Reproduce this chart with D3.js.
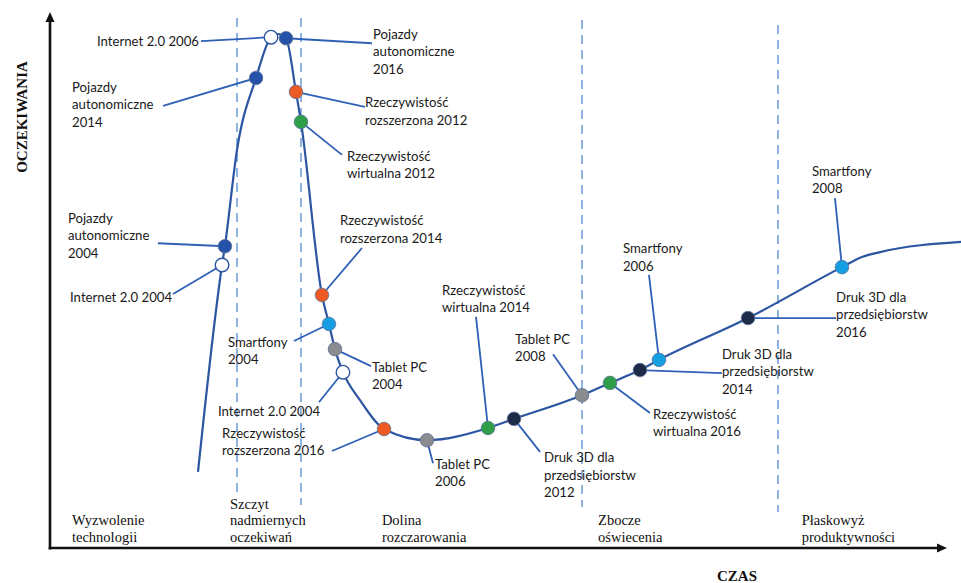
<!DOCTYPE html>
<html>
<head>
<meta charset="utf-8">
<script src="https://cdn.jsdelivr.net/npm/d3@7"></script>
<style>
  body { margin: 0; background: #fff; }
  svg { display: block; }
</style>
</head>
<body>
<svg id="chart" width="961" height="583"></svg>
<script>
// Hype cycle: time (0–100) vs expectations (0–100)
const hypeTime   = [16.5, 19.18, 19.5, 20.85, 22.97, 24.64, 25.42, 26.31, 27.42, 27.98, 30.32, 31.10, 31.77, 32.66, 34.56, 37.24, 42.03, 48.83, 51.73, 59.31, 62.43, 65.77, 67.89, 77.82, 88.29, 90.52, 92.53, 101.56];
const hypeExpect = [14.2, 52.8, 56.3, 74.3, 87.7, 95.3, 95.9, 95.1, 85.1, 79.5, 47.2, 41.8, 37.1, 32.8, 27.6, 22.2, 20.1, 22.4, 24.1, 28.5, 30.8, 33.2, 35.1, 42.9, 52.4, 54.3, 55.2, 57.1];

// Technologies placed on the cycle
const techName   = ["Internet 2.0", "Pojazdy autonomiczne", "Pojazdy autonomiczne", "Rzeczywistość rozszerzona", "Rzeczywistość wirtualna",
                    "Pojazdy autonomiczne", "Internet 2.0", "Rzeczywistość rozszerzona", "Smartfony", "Tablet PC",
                    "Internet 2.0", "Rzeczywistość rozszerzona", "Tablet PC", "Rzeczywistość wirtualna", "Druk 3D dla przedsiębiorstw",
                    "Tablet PC", "Rzeczywistość wirtualna", "Druk 3D dla przedsiębiorstw", "Smartfony", "Druk 3D dla przedsiębiorstw", "Smartfony"];
const techYear   = [2006, 2016, 2014, 2012, 2012, 2004, 2004, 2014, 2004, 2004, 2004, 2016, 2006, 2014, 2012, 2008, 2016, 2014, 2006, 2016, 2008];
const techTime   = [24.64, 26.31, 22.97, 27.42, 27.98, 19.5, 19.18, 30.32, 31.10, 31.77, 32.66, 37.24, 42.03, 48.83, 51.73, 59.31, 62.43, 65.77, 67.89, 77.82, 88.29];
const techExpect = [95.3, 95.1, 87.7, 85.1, 79.5, 56.3, 52.8, 47.2, 41.8, 37.1, 32.8, 22.2, 20.1, 22.4, 24.1, 28.5, 30.8, 33.2, 35.1, 42.9, 52.4];

// Label text, line by line
const techLines = [
  ["Internet 2.0 2006"],
  ["Pojazdy", "autonomiczne", "2016"],
  ["Pojazdy", "autonomiczne", "2014"],
  ["Rzeczywistość", "rozszerzona 2012"],
  ["Rzeczywistość", "wirtualna 2012"],
  ["Pojazdy", "autonomiczne", "2004"],
  ["Internet 2.0 2004"],
  ["Rzeczywistość", "rozszerzona 2014"],
  ["Smartfony", "2004"],
  ["Tablet PC", "2004"],
  ["Internet 2.0 2004"],
  ["Rzeczywistość", "rozszerzona 2016"],
  ["Tablet PC", "2006"],
  ["Rzeczywistość", "wirtualna 2014"],
  ["Druk 3D dla", "przedsiębiorstw", "2012"],
  ["Tablet PC", "2008"],
  ["Rzeczywistość", "wirtualna 2016"],
  ["Druk 3D dla", "przedsiębiorstw", "2014"],
  ["Smartfony", "2006"],
  ["Druk 3D dla", "przedsiębiorstw", "2016"],
  ["Smartfony", "2008"]
];

// Phases of the cycle
const phaseLines = [["Wyzwolenie", "technologii"], ["Szczyt", "nadmiernych", "oczekiwań"], ["Dolina", "rozczarowania"], ["Zbocze", "oświecenia"], ["Płaskowyż", "produktywności"]];
const phaseLabelTime = [2.45, 20.07, 37.0, 61.1, 83.8];
const phaseBoundaries = [20.85, 27.98, 59.31, 81.16];

// Callout placement (pixel offsets from each point): label anchor and leader end
const calloutLayout = [
  { dx: -72, dy: 4, lx: -70, ly: 4, anchor: "end" },
  { dx: 87, dy: -4, lx: 86, ly: 5 },
  { dx: -184, dy: 9, lx: -93, ly: 28 },
  { dx: 69, dy: 11, lx: 69, ly: 15 },
  { dx: 46, dy: 34, lx: 41, ly: 33 },
  { dx: -157, dy: -28, lx: -67, ly: -3 },
  { dx: -152, dy: 32, lx: -49, ly: 29 },
  { dx: 18, dy: -74.5, lx: 40, ly: -47 },
  { dx: -101, dy: 18, lx: -35, ly: 17 },
  { dx: 37, dy: 18, lx: 36, ly: 17 },
  { dx: -125, dy: 39, lx: -24, ly: 30 },
  { dx: -162, dy: 4, lx: -52, ly: 22 },
  { dx: 8, dy: 24, lx: 6, ly: 23 },
  { dx: -46, dy: -138, lx: -12, ly: -111 },
  { dx: 30, dy: 39, lx: 26, ly: 33 },
  { dx: -67, dy: -56, lx: -29, ly: -41 },
  { dx: 43, dy: 31, lx: 40, ly: 30 },
  { dx: 82, dy: -16, lx: 82, ly: 3 },
  { dx: -36, dy: -111, lx: -10, ly: -85 },
  { dx: 88, dy: -21, lx: 88, ly: 0 },
  { dx: -30, dy: -96, lx: -7, ly: -69 }
];

const techColor = {
  "Internet 2.0": "#ffffff",
  "Pojazdy autonomiczne": "#2452a8",
  "Rzeczywistość rozszerzona": "#ee5a24",
  "Rzeczywistość wirtualna": "#2f9e48",
  "Smartfony": "#169ee2",
  "Tablet PC": "#8a8c8f",
  "Druk 3D dla przedsiębiorstw": "#1d2b48"
};

const svg = d3.select("#chart");
const x = d3.scaleLinear().domain([0, 100]).range([50, 947]);
const y = d3.scaleLinear().domain([0, 100]).range([548, 12]);

const lineBlue = "#2c55a2";
const leaderBlue = "#2f60b6";
const labelFont = "Lato, 'Open Sans', sans-serif";
const serifFont = "'Liberation Serif', 'Times New Roman', serif";

// Phase boundaries
svg.append("g").selectAll("line").data(phaseBoundaries).join("line")
  .attr("x1", d => x(d)).attr("x2", d => x(d))
  .attr("y1", (d, i) => [18, 18, 20, 25][i])
  .attr("y2", (d, i) => [492, 505, 507, 512][i])
  .attr("stroke", "#8eb3e2").attr("stroke-width", 2)
  .attr("stroke-dasharray", "9,6");

// Axes with arrowheads
const axisG = svg.append("g");
axisG.append("line").attr("x1", x(0)).attr("x2", x(0)).attr("y1", y(0) + 1.5).attr("y2", y(100) + 8)
  .attr("stroke", "#111").attr("stroke-width", 2.6);
axisG.append("line").attr("x1", x(0) - 1.3).attr("x2", x(100) - 8).attr("y1", y(0)).attr("y2", y(0))
  .attr("stroke", "#111").attr("stroke-width", 2.6);
axisG.append("path")
  .attr("d", `M${x(0)},${y(100)} L${x(0) - 4.5},${y(100) + 10} L${x(0) + 4.5},${y(100) + 10} Z`)
  .attr("fill", "#111");
axisG.append("path")
  .attr("d", `M${x(100)},${y(0)} L${x(100) - 10},${y(0) - 4.5} L${x(100) - 10},${y(0) + 4.5} Z`)
  .attr("fill", "#111");

// Axis titles
svg.append("text")
  .attr("transform", `translate(${x(0) - 28},117) rotate(-90)`)
  .attr("text-anchor", "middle").attr("dy", "0.35em")
  .attr("font-family", serifFont).attr("font-weight", "bold").attr("font-size", 15)
  .attr("fill", "#111").text("OCZEKIWANIA");
svg.append("text")
  .attr("x", 737).attr("y", 576).attr("dy", "0.35em")
  .attr("text-anchor", "middle")
  .attr("font-family", serifFont).attr("font-weight", "bold").attr("font-size", 15)
  .attr("fill", "#111").text("CZAS");

// Phase names, bottom-aligned
const phaseG = svg.append("g");
phaseLines.forEach((lines, i) => {
  const t = phaseG.append("text")
    .attr("font-family", serifFont).attr("font-size", 14.5).attr("fill", "#111");
  lines.forEach((ln, j) => {
    t.append("tspan").attr("x", x(phaseLabelTime[i]))
      .attr("y", 537 - (lines.length - 1 - j) * 16.7)
      .attr("dy", "0.35em").text(ln);
  });
});

const points = techName.map((n, i) => ({
  name: n, year: techYear[i], px: x(techTime[i]), py: y(techExpect[i]),
  lines: techLines[i], layout: calloutLayout[i]
}));

// Leader lines
svg.append("g").selectAll("line").data(points).join("line")
  .attr("x1", d => d.px).attr("y1", d => d.py)
  .attr("x2", d => d.px + d.layout.lx).attr("y2", d => d.py + d.layout.ly)
  .attr("stroke", leaderBlue).attr("stroke-width", 1.8);

// The hype curve
const hype = hypeTime.map((t, i) => [t, hypeExpect[i]]);
svg.append("path")
  .datum(hype)
  .attr("d", d3.line().x(d => x(d[0])).y(d => y(d[1])).curve(d3.curveMonotoneX))
  .attr("fill", "none").attr("stroke", lineBlue).attr("stroke-width", 2.2);

// Technology markers
svg.append("g").selectAll("circle").data(points).join("circle")
  .attr("cx", d => d.px).attr("cy", d => d.py).attr("r", 6.8)
  .attr("fill", d => techColor[d.name])
  .attr("stroke", d => d.name === "Internet 2.0" ? lineBlue : "#5d7197")
  .attr("stroke-width", d => d.name === "Internet 2.0" ? 1.4 : 0.8);

// Callout labels
const labelG = svg.append("g");
points.forEach(d => {
  const t = labelG.append("text")
    .attr("font-family", labelFont).attr("font-size", 13.2).attr("fill", "#1a1a1a")
    .attr("text-anchor", d.layout.anchor || "start");
  d.lines.forEach((ln, j) => {
    t.append("tspan").attr("x", d.px + d.layout.dx)
      .attr("y", d.py + d.layout.dy + j * 17.5)
      .attr("dy", "0.35em").text(ln);
  });
});
</script>
</body>
</html>
